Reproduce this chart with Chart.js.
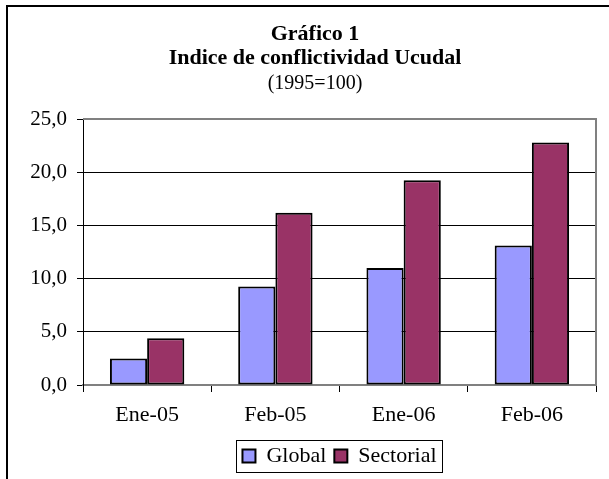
<!DOCTYPE html>
<html>
<head>
<meta charset="utf-8">
<script src="https://cdn.jsdelivr.net/npm/chart.js@4/dist/chart.umd.min.js"></script>
<style>
  html, body { margin: 0; padding: 0; background: #fff; }
  #wrap { width: 609px; height: 479px; }
</style>
</head>
<body>
<div id="wrap"><canvas id="c" width="609" height="479"></canvas></div>
<script>
const categories = ["Ene-05", "Feb-05", "Ene-06", "Feb-06"];
const globalValues = [2.5, 9.25, 11.0, 13.1];
const sectorialValues = [4.4, 16.2, 19.25, 22.8];
const seriesNames = ["Global", "Sectorial"];
const titleLines = ["Gráfico 1", "Indice de conflictividad Ucudal"];
const subtitleText = "(1995=100)";
const yTicks = [0, 5, 10, 15, 20, 25];

const FONT = "'Liberation Serif', 'Times New Roman', serif";

const framePlugin = {
  id: 'frame',
  beforeDraw(chart) {
    const ctx = chart.ctx;
    ctx.save();
    ctx.fillStyle = '#fff';
    ctx.fillRect(0, 0, chart.width, chart.height);
    ctx.strokeStyle = '#000';
    ctx.lineWidth = 2;
    ctx.beginPath();
    ctx.moveTo(7, chart.height);
    ctx.lineTo(7, 6);
    ctx.lineTo(chart.width, 6);
    ctx.stroke();
    ctx.restore();
    const a = chart.chartArea;
    // centre title + subtitle on the whole frame
    chart.boxes.forEach(b => {
      if (b.position === 'top' && b.options && b.options.text !== undefined) {
        b.left = 34;
        b.right = a.right;
        b.width = b.right - b.left;
      }
    });
    // centre the legend under the plot area
    const lg = chart.legend;
    if (lg && lg.options.display) {
      lg.left = a.left;
      lg.right = a.right;
      lg.fit();
      lg.width = a.right - a.left;
      lg.adjustHitBoxes();
    }
  },
  beforeDatasetsDraw(chart) {
    const a = chart.chartArea;
    const ctx = chart.ctx;
    ctx.save();
    ctx.strokeStyle = '#808080';
    ctx.lineWidth = 2;
    ctx.beginPath();
    ctx.moveTo(a.left, a.top);
    ctx.lineTo(a.right, a.top);
    ctx.lineTo(a.right, a.bottom);
    ctx.stroke();
    ctx.restore();
  },
  afterDraw(chart) {
    const lg = chart.legend;
    if (!lg || !lg.legendHitBoxes || !lg.legendHitBoxes.length) return;
    const hb = lg.legendHitBoxes;
    let l = Infinity, r = -Infinity, t = Infinity, b = -Infinity;
    hb.forEach(h => {
      l = Math.min(l, h.left); r = Math.max(r, h.left + h.width);
      t = Math.min(t, h.top); b = Math.max(b, h.top + h.height);
    });
    const ctx = chart.ctx;
    ctx.save();
    ctx.strokeStyle = '#000';
    ctx.lineWidth = 1;
    ctx.strokeRect(Math.round(l - 6) + 0.5, Math.round(t - 5) + 0.5, Math.round(r - l + 12), Math.round(b - t + 10));
    ctx.restore();
  }
};

new Chart(document.getElementById('c'), {
  type: 'bar',
  data: {
    labels: categories,
    datasets: [
      { label: seriesNames[0], data: globalValues, backgroundColor: '#9999FF', borderColor: '#000', borderWidth: 2, borderSkipped: false },
      { label: seriesNames[1], data: sectorialValues, backgroundColor: '#993366', borderColor: '#000', borderWidth: 2, borderSkipped: false }
    ]
  },
  plugins: [framePlugin],
  options: {
    responsive: false,
    animation: false,
    events: [],
    layout: { padding: { left: 10, right: 13, top: 0, bottom: 2 } },
    datasets: { bar: { categoryPercentage: 0.58, barPercentage: 1.0 } },
    plugins: {
      title: {
        display: true,
        text: titleLines,
        color: '#000',
        font: { family: FONT, size: 22, weight: 'bold', lineHeight: 1.091 },
        padding: { top: 22, bottom: 0 }
      },
      subtitle: {
        display: true,
        text: subtitleText,
        color: '#000',
        font: { family: FONT, size: 20, weight: 'normal', lineHeight: 1.2 },
        padding: { top: 2, bottom: 23 }
      },
      legend: {
        display: true,
        position: 'bottom',
        labels: {
          color: '#000',
          font: { family: FONT, size: 22, lineHeight: 1.1 },
          boxWidth: 13,
          boxHeight: 13,
          padding: 8
        }
      },
      tooltip: { enabled: false }
    },
    scales: {
      x: {
        offset: true,
        grid: { display: true, offset: true, drawOnChartArea: false, drawTicks: true, tickLength: 7, color: '#000', tickColor: '#000' },
        border: { display: true, color: '#808080', width: 2 },
        ticks: { color: '#000', font: { family: FONT, size: 22 }, padding: 10, maxRotation: 0 },
        afterFit(scale) { scale.height = 52; }
      },
      y: {
        min: 0,
        max: 25,
        afterBuildTicks(scale) { scale.ticks = yTicks.map(v => ({ value: v })); },
        grid: {
          color: (c) => (c.tick && (c.tick.value === 0 || c.tick.value === 25)) ? 'rgba(0,0,0,0)' : '#000',
          tickColor: '#000',
          tickLength: 6,
          lineWidth: 1
        },
        border: { display: true, color: '#000', width: 1 },
        ticks: {
          color: '#000',
          font: { family: FONT, size: 21 },
          padding: 10,
          callback: (v) => Number(v).toFixed(1).replace('.', ',')
        },
        afterFit(scale) { scale.width = 73; }
      }
    }
  }
});
</script>
</body>
</html>
